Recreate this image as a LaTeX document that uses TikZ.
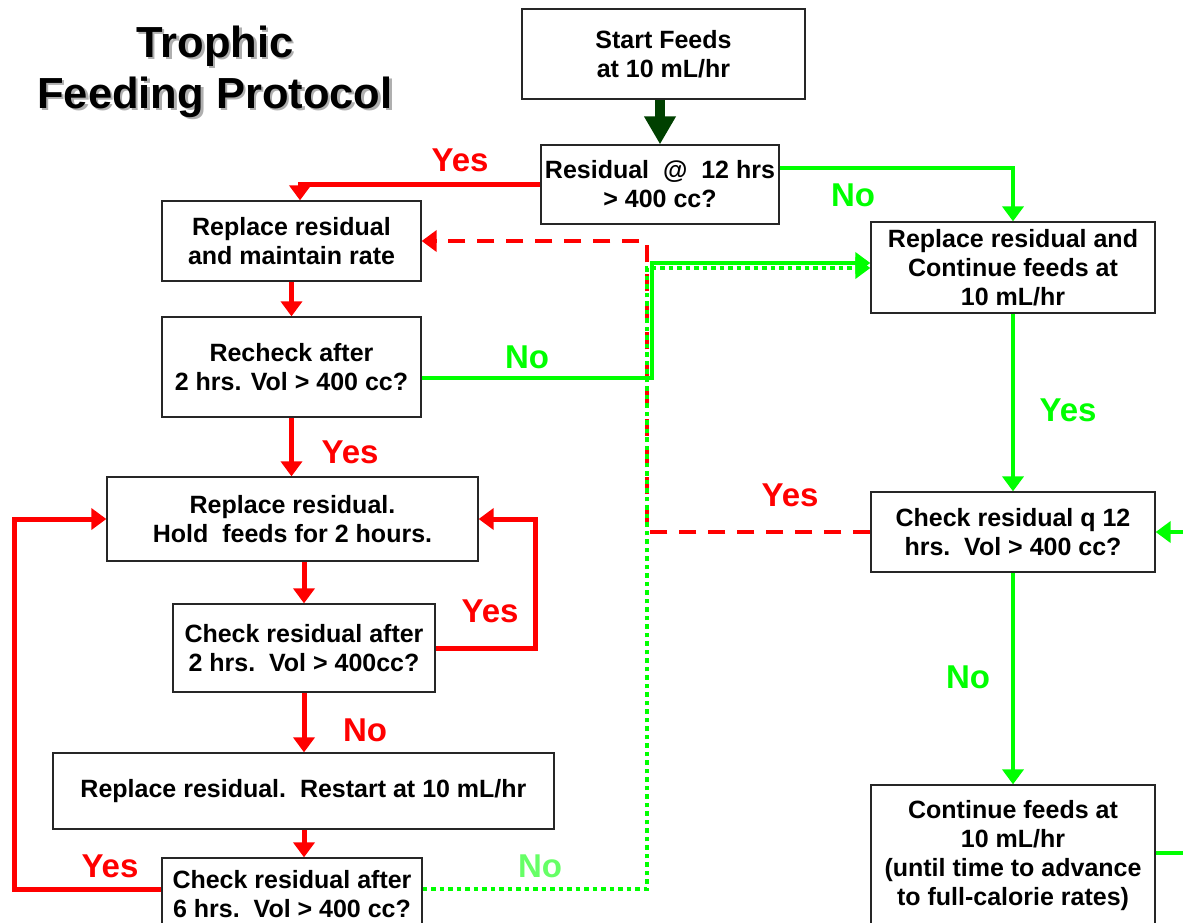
\documentclass[tikz,border=0pt]{standalone}
\usepackage{fontspec}
\setmainfont{Liberation Sans}
\usetikzlibrary{arrows.meta}
\definecolor{dkgreen}{RGB}{0,64,0}
\definecolor{lgreen}{RGB}{0,255,0}
\definecolor{pgreen}{RGB}{102,255,102}
\definecolor{shadowgray}{RGB}{175,175,175}
\newcommand{\shadowtext}[1]{\makebox[0pt][l]{\hspace{2.5pt}\raisebox{-2pt}{\textcolor{shadowgray}{#1}}}#1}
\begin{document}
\begin{tikzpicture}[x=1pt,y=-1pt,
  box/.style={draw=black!85,line width=1.3pt,fill=white,align=center,
    font=\fontsize{25}{29}\selectfont\bfseries,inner sep=0pt},
  rl/.style={draw=red,line width=5pt},
  gl/.style={draw=lgreen,line width=4pt},
  gdot/.style={draw=lgreen,line width=4.5pt,dash pattern=on 4.5pt off 4pt},
  rdash/.style={draw=red,line width=4.5pt,dash pattern=on 17pt off 12pt},
  ah/.style={-{Triangle[length=15pt,width=21pt]}},
  lab/.style={font=\fontsize{33}{33}\selectfont\bfseries},
  ttl/.style={font=\fontsize{43.5}{50}\selectfont\bfseries,anchor=base,inner sep=0pt}
]
\useasboundingbox (0,0) rectangle (1183,922);

% title
\node[ttl] (t1) at (215,57) {\shadowtext{Trophic}};
\node[ttl] (t2) at (215,108) {\shadowtext{Feeding Protocol}};

% boxes
\node[box,minimum width=283pt,minimum height=90pt] (start) at (663.5,54) {Start Feeds\\at 10 mL/hr};
\node[box,minimum width=238pt,minimum height=79pt] (res12) at (660,184.5) {Residual\ \ @\ \ 12 hrs\\> 400 cc?};
\node[box,minimum width=259pt,minimum height=80pt] (maint) at (291.5,241) {Replace residual\\and maintain rate};
\node[box,minimum width=259pt,minimum height=100pt] (recheck) at (291.5,367) {Recheck after\\2 hrs. Vol > 400 cc?};
\node[box,minimum width=371pt,minimum height=84pt] (hold) at (292.5,519) {Replace residual.\\Hold\ \ feeds for 2 hours.};
\node[box,minimum width=262pt,minimum height=88pt] (check2) at (304,648) {Check residual after\\2 hrs.\ \ Vol > 400cc?};
\node[box,minimum width=501pt,minimum height=76pt] (restart) at (303.5,791) {Replace residual.\ \ Restart at 10 mL/hr};
\node[box,minimum width=260pt,minimum height=72pt] (check6) at (292,894) {Check residual after\\6 hrs.\ \ Vol > 400 cc?};
\node[box,minimum width=284pt,minimum height=91pt] (cont) at (1013,267.5) {Replace residual and\\Continue feeds at\\10 mL/hr};
\node[box,minimum width=284pt,minimum height=80pt] (q12) at (1013,532) {Check residual q 12\\hrs.\ \ Vol > 400 cc?};
\node[box,minimum width=284pt,minimum height=142pt] (final) at (1013,856) {Continue feeds at\\10 mL/hr\\(until time to advance\\to full-calorie rates)};

% connectors
\draw[dkgreen,line width=10pt,-{Triangle[length=28pt,width=30pt]}] (res12.north |- start.south) -- (res12.north);
\draw[rl,ah] (res12.west) -- (300,184.5) -- (300,184.5 |- maint.north);
\draw[gl,ah] ([yshift=16.5pt]res12.east) -| (cont.north);
\draw[rdash,ah] (q12.west) -- (647,532) |- (maint.east);
\draw[gdot,ah] ([yshift=5pt]check6.east) -- (647,889) |- ([yshift=-0.5pt]cont.west);
\draw[gl,ah] ([yshift=-11pt]recheck.east) -- (652,378) |- ([yshift=4.5pt]cont.west);
\draw[rl,ah] (maint.south) -- (recheck.north);
\draw[rl,ah] (recheck.south) -- (recheck.south |- hold.north);
\draw[rl,ah] (check2.north |- hold.south) -- (check2.north);
\draw[rl,ah] (check2.east) -- (535,648) |- (hold.east);
\draw[rl,ah] (check2.south) -- (check2.south |- restart.north);
\draw[rl,ah] (check2.south |- restart.south) -- (check2.south |- check6.north);
\draw[rl,ah] ([yshift=5pt]check6.west) -- (14,889) |- (hold.west);
\draw[gl,ah] (cont.south) -- (q12.north);
\draw[gl,ah] (q12.south) -- (final.north);
\coordinate (redgeA) at (1190,853);
\coordinate (redgeB) at (1190,532);
\draw[gl] ([yshift=3pt]final.east) -- (redgeA);
\draw[gl,ah] (redgeB) -- (q12.east);

% labels
\node[lab,text=red] (l1) at (460,160) {Yes};
\node[lab,text=lgreen] (l2) at (853,195) {No};
\node[lab,text=lgreen] (l3) at (527,357) {No};
\node[lab,text=red] (l4) at (350,452) {Yes};
\node[lab,text=red] (l5) at (790,495) {Yes};
\node[lab,text=red] (l6) at (490,611) {Yes};
\node[lab,text=red] (l7) at (365,730) {No};
\node[lab,text=red] (l8) at (110,866) {Yes};
\node[lab,text=pgreen] (l9) at (540,866) {No};
\node[lab,text=lgreen] (l10) at (1068,410) {Yes};
\node[lab,text=lgreen] (l11) at (968,677) {No};
\end{tikzpicture}
\end{document}
